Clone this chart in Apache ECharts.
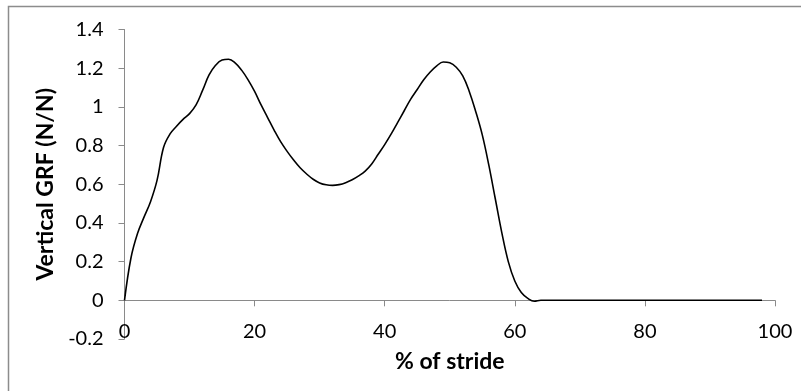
<!DOCTYPE html>
<html>
<head>
<meta charset="utf-8">
<script src="https://cdn.jsdelivr.net/npm/echarts@6/dist/echarts.min.js"></script>
<style>
  html, body { margin: 0; padding: 0; background: #fff; }
  #chart { width: 801px; height: 391px; }
</style>
</head>
<body>
<div id="chart"></div>
<script>
// % of stride and vertical GRF (N/N)
const stride = [
  0, 1, 2, 3, 4, 5, 6, 7, 8, 9, 10, 11, 12, 13, 14, 15, 16, 17, 18, 19,
  20, 21, 22, 23, 24, 25, 26, 27, 28, 29, 30, 31, 32, 33, 34, 35, 36, 37, 38, 39,
  40, 41, 42, 43, 44, 45, 46, 47, 48, 49, 50, 51, 52, 53, 54, 55, 56, 57, 58, 59,
  60, 61, 62, 63, 64, 66, 70, 75, 80, 85, 90, 95, 98
]
const grf = [
  0, 0.22, 0.345, 0.43, 0.51, 0.62, 0.79, 0.86, 0.9, 0.935, 0.965, 1.01, 1.085, 1.165, 1.215, 1.242, 1.246, 1.228, 1.19, 1.14,
  1.08, 1.01, 0.945, 0.88, 0.82, 0.77, 0.725, 0.685, 0.653, 0.626, 0.607, 0.597, 0.594, 0.598, 0.608, 0.623, 0.643, 0.668, 0.705, 0.755,
  0.805, 0.86, 0.92, 0.98, 1.04, 1.09, 1.14, 1.18, 1.212, 1.232, 1.228, 1.205, 1.16, 1.08, 0.975, 0.855, 0.7, 0.525, 0.35, 0.2,
  0.1, 0.04, 0.01, -0.005, 0, 0, 0, 0, 0, 0, 0, 0, 0
]
const xTicks = { min: 0, max: 100, step: 20 }
const yTicks = { min: -0.2, max: 1.4, step: 0.2 }

const FONT = 'Lato, "Open Sans", sans-serif'
const AXIS_GRAY = '#8a8a8a'

const chart = echarts.init(document.getElementById('chart'))

chart.setOption({
  animation: false,
  backgroundColor: '#fff',
  graphic: [
    {
      type: 'rect',
      shape: { x: 8.5, y: 6.5, width: 820, height: 420 },
      style: { fill: 'none', stroke: '#8c8c8c', lineWidth: 1.5 },
      silent: true,
    },
  ],
  grid: { left: 124.5, right: 26, top: 29.5, bottom: 52 },
  xAxis: [
    {
      type: 'value',
      min: xTicks.min,
      max: xTicks.max,
      interval: xTicks.step,
      axisLine: { onZero: true, lineStyle: { color: AXIS_GRAY, width: 1 } },
      axisTick: { show: true, inside: false, length: 6, lineStyle: { color: AXIS_GRAY } },
      axisLabel: { show: false },
      splitLine: { show: false },
    },
    {
      type: 'value',
      position: 'bottom',
      offset: -20,
      min: xTicks.min,
      max: xTicks.max,
      interval: xTicks.step,
      axisLine: { show: false },
      axisTick: { show: false },
      axisLabel: { margin: 3, color: '#000', fontSize: 20, fontFamily: FONT },
      splitLine: { show: false },
      name: '% of stride',
      nameLocation: 'middle',
      nameGap: 31,
      nameTextStyle: { color: '#000', fontSize: 23, fontWeight: 'bold', fontFamily: FONT },
    },
  ],
  yAxis: {
    type: 'value',
    min: yTicks.min,
    max: yTicks.max,
    interval: yTicks.step,
    axisLine: { show: true, lineStyle: { color: AXIS_GRAY, width: 1 } },
    axisTick: { show: true, inside: false, length: 6, lineStyle: { color: AXIS_GRAY } },
    axisLabel: {
      margin: 21,
      color: '#000',
      fontSize: 20,
      fontFamily: FONT,
      formatter: v => String(Math.round(v * 10) / 10),
    },
    splitLine: { show: false },
    name: 'Vertical GRF (N/N)',
    nameLocation: 'middle',
    nameGap: 65,
    nameTextStyle: { color: '#000', fontSize: 23, fontWeight: 'bold', fontFamily: FONT },
  },
  series: [
    {
      type: 'line',
      xAxisIndex: 0,
      data: stride.map((x, i) => [x, grf[i]]),
      showSymbol: false,
      smooth: 0.4,
      lineStyle: { color: '#000', width: 1.6 },
    },
  ],
})
</script>
</body>
</html>
